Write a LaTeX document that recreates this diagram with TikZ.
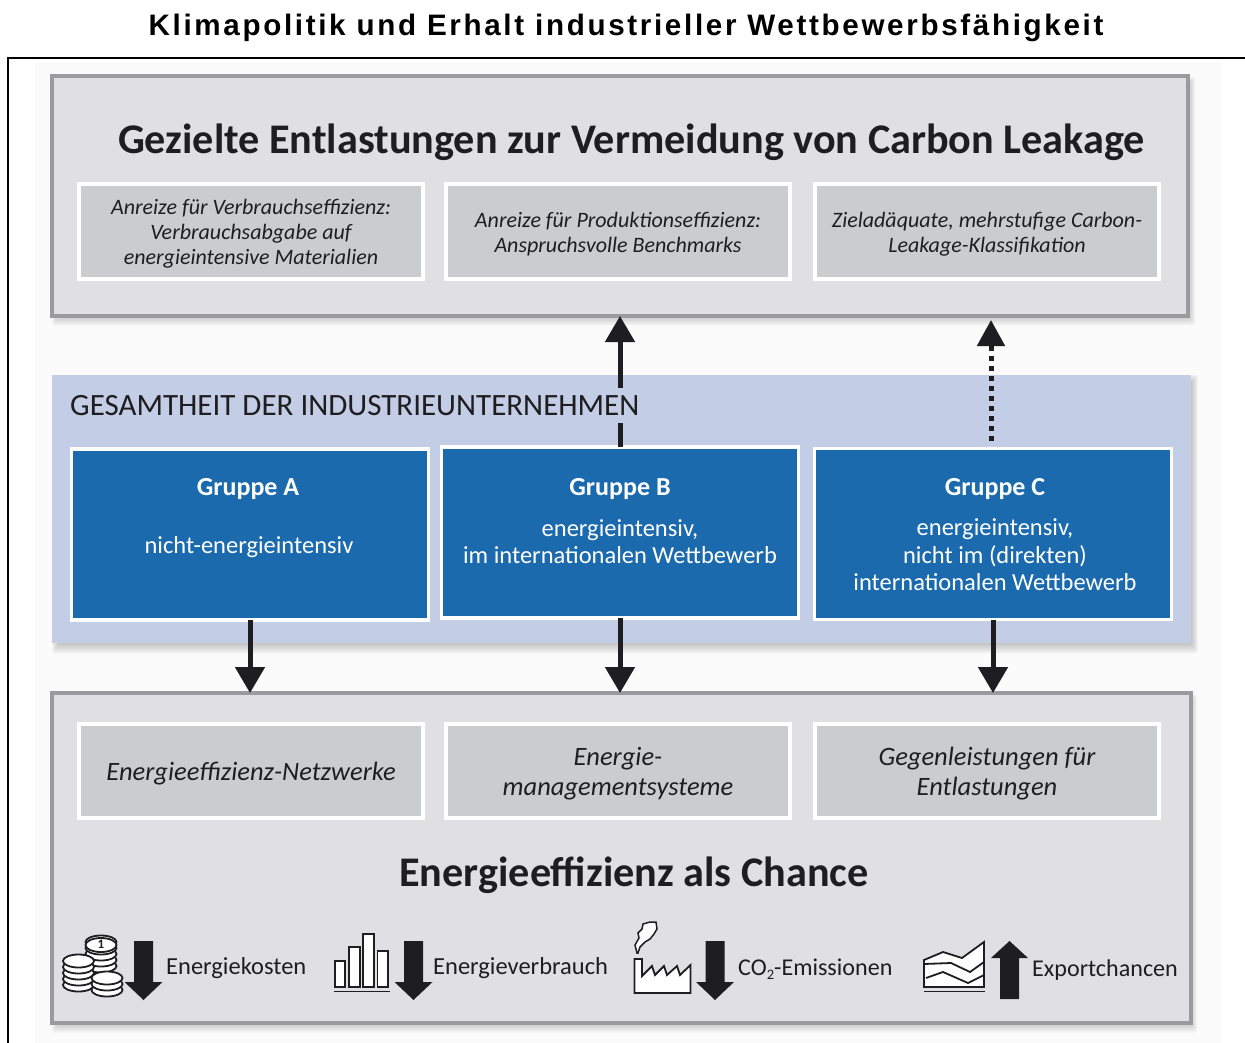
\documentclass[tikz,border=0pt]{standalone}
\usepackage{fontspec}
\setmainfont{Carlito}
\newfontfamily\titlefont[LetterSpace=9]{Liberation Sans}
\usetikzlibrary{arrows.meta}
\definecolor{panelgray}{HTML}{E0E0E2}
\definecolor{panelline}{HTML}{9B9B9D}
\definecolor{innergray}{HTML}{CBCCCE}
\definecolor{bandblue}{HTML}{C4CDE6}
\definecolor{groupblue}{HTML}{1B6AAE}
\definecolor{ink}{HTML}{1E1E20}
\newcommand{\fsz}[2]{\fontsize{#1}{#2}\selectfont}
\newcommand{\lowr}[1]{\raisebox{-2.5pt}[\height][\depth]{#1}}
\newcommand{\softshadow}[4]{%
  \foreach \i in {1,...,7}{%
    \fill[black,opacity=.03,rounded corners=2pt] (#1+7-\i,#2+7-\i) rectangle (#3+\i,#4+1.5*\i);}}
\newcommand{\coinstack}[4]{% cx, bottom y, count, spacing
  \foreach \k in {1,...,#3}{%
    \draw[iconline,fill=white] (#1,{#2-(\k-1)*#4}) ellipse [x radius=15.5,y radius=6.5];}}
\tikzset{
  x=1pt,y=-1pt,
  panel/.style={draw=panelline,fill=panelgray,line width=4pt,inner sep=0pt,outer sep=0pt},
  subbox/.style={draw=white,fill=innergray,line width=4pt,inner sep=0pt,outer sep=0pt,
    minimum width=344pt,minimum height=94pt,text=ink,align=center},
  topsub/.style={subbox,font=\itshape\fsz{22}{25}},
  botsub/.style={subbox,font=\itshape\fsz{26.5}{30}},
  groupbox/.style={draw=white,fill=groupblue,line width=3.5pt,inner sep=0pt,outer sep=0pt,
    minimum width=357pt,minimum height=171pt},
  grouptext/.style={text=white,align=center,inner sep=0pt},
  grouphead/.style={grouptext,font=\bfseries\fsz{26}{30}},
  groupbody/.style={grouptext,font=\fsz{24.5}{27.5}},
  heading/.style={text=ink,font=\bfseries\fsz{42.2}{48},inner sep=0pt},
  iconlabel/.style={text=ink,font=\fsz{24.5}{28},inner sep=0pt,anchor=west},
  flow/.style={line width=5pt,draw=ink,-{Triangle[length=26pt,width=29pt,fill=ink]}},
  iconline/.style={draw=ink,line width=1.8pt,line join=miter},
  bigarrow/.style={fill=ink,draw=none},
}
\begin{document}
\begin{tikzpicture}
\useasboundingbox (0,0) rectangle (1245,1043);
\fill[white] (0,0) rectangle (1245,1043);
\fill[black!1.5] (35,62) rectangle (1222,1043);
% title and frame
\node[inner sep=0pt,text=black] (title) at (626,28) {\titlefont\bfseries\fsz{29.6}{34}Klimapolitik und Erhalt industrieller Wettbewerbsfähigkeit};
\coordinate (frameA) at (8,1043);
\coordinate (frameB) at (8,58);
\coordinate (frameC) at (1245,58);
\draw[black,line width=2pt] (frameA) -- (frameB) -- (frameC);
% shadows
\softshadow{52}{77}{1188}{315}
\softshadow{52}{375}{1191}{643}
\softshadow{52}{694}{1190}{1022}
% panels
\node[panel,minimum width=1136pt,minimum height=240pt] (top) at (620,196) {};
\node[fill=bandblue,inner sep=0pt,outer sep=0pt,minimum width=1139pt,minimum height=268pt] (band) at (621.5,509) {};
\node[panel,minimum width=1139pt,minimum height=330pt] (bottom) at (621.5,858) {};
% top
\node[heading] (toph) at (631.5,142) {Gezielte Entlastungen zur Vermeidung von Carbon Leakage};
\node[topsub] (t1) at (251,231.5) {\lowr{Anreize für Verbrauchseffizienz:}\\\lowr{Verbrauchsabgabe auf}\\\lowr{energieintensive Materialien}};
\node[topsub] (t2) at (618,231.5) {\lowr{Anreize für Produktionseffizienz:}\\\lowr{Anspruchsvolle Benchmarks}};
\node[topsub] (t3) at (987,231.5) {\lowr{Zieladäquate, mehrstufige Carbon-}\\\lowr{Leakage-Klassifikation}};
% groups
\node[groupbox] (gA) at (250,534.5) {};
\node[groupbox] (gB) at (620,532.5) {};
\node[groupbox] (gC) at (993,534) {};
\coordinate (dotstart) at (991,441);
\coordinate (dotend) at (991,320);
% connectors
\draw[flow] (gB.north) -- (gB.north |- top.south);
\draw[flow,-{Triangle[length=26pt,width=27pt,fill=ink]},dash pattern=on 5pt off 5pt] (dotstart) -- (dotend);
\draw[flow] (gA.south) -- (gA.south |- bottom.north);
\draw[flow] (gB.south) -- (gB.south |- bottom.north);
\draw[flow] (gC.south) -- (gC.south |- bottom.north);
% band title (interrupts the arrow)
\node[fill=bandblue,text=ink,inner xsep=0pt,inner ysep=0pt,minimum height=35pt,anchor=west,font=\fsz{31}{34}] (bandt) at (70,405.5) {GESAMTHEIT DER INDUSTRIEUNTERNEHMEN};
% group text
\node[grouphead] (gAh) at (248,489) {Gruppe A};
\node[groupbody] (gAb) at (249,547) {nicht-energieintensiv};
\node[grouphead] (gBh) at (620,489) {Gruppe B};
\node[groupbody] (gBb) at (620,541.5) {energieintensiv,\\im internationalen Wettbewerb};
\node[grouphead] (gCh) at (995,489) {Gruppe C};
\node[groupbody] (gCb) at (995,555) {energieintensiv,\\nicht im (direkten)\\internationalen Wettbewerb};
% bottom
\node[botsub] (b1) at (251,771) {\lowr{Energieeffizienz-Netzwerke}};
\node[botsub] (b2) at (618,771) {\lowr{Energie-}\\\lowr{managementsysteme}};
\node[botsub] (b3) at (987,771) {\lowr{Gegenleistungen für}\\\lowr{Entlastungen}};
\node[heading] (both) at (634,875) {Energieeffizienz als Chance};
% coins
\coinstack{101}{966}{5}{6}
\coinstack{78.5}{985}{5}{6}
\coinstack{107}{990}{3}{6}
\draw[iconline,fill=white] (101,945) ellipse [x radius=15.5,y radius=7];
\node[inner sep=0pt,text=ink,font=\bfseries\fsz{13}{13}] (coin1) at (101,944.5) {1};
% down arrows
\foreach \ax in {143.5,413.5,715}{
  \fill[bigarrow] (\ax-9.5,941) -- (\ax+9.5,941) -- (\ax+9.5,982) -- (\ax+19,982) -- (\ax,1000) -- (\ax-19,982) -- (\ax-9.5,982) -- cycle;
}
% bars
\draw[iconline,fill=white] (335,961) rectangle (345,987);
\draw[iconline,fill=white] (349,947) rectangle (360,987);
\draw[iconline,fill=white] (363,934) rectangle (374,987);
\draw[iconline,fill=white] (377.5,951) rectangle (388,987);
\draw[iconline] (333.5,991.5) -- (390,991.5);
% factory
\draw[iconline,fill=white] (634.5,959) -- (642,959) -- (642,976) -- (652,966) -- (655,975) -- (664,966) -- (667,975) -- (677,966) -- (680,975) -- (690.5,965) -- (690.5,993) -- (634.5,993) -- cycle;
\draw[iconline,line width=1.5pt,fill=white] (637,953) -- (635,945) -- (639,938) -- (638,933) -- (642,929) -- (643,924) -- (650,922) -- (656,922) -- (657,929) -- (654,934) -- (650,939) -- (645,942) -- (640,947) -- (638,953) -- cycle;
% chart
\draw[iconline,fill=white] (924,960) -- (943,952) -- (962,958) -- (984,942) -- (984,987) -- (924,987) -- cycle;
\draw[iconline] (924,964) -- (951,963) -- (970,972) -- (984,962);
\draw[iconline] (926,978) -- (943,972) -- (968,983) -- (984,975);
\draw[iconline] (924,991.5) -- (985,991.5);
\fill[bigarrow] (1009.5,941) -- (1028,958) -- (1019,958) -- (1019,999) -- (1000,999) -- (1000,958) -- (991,958) -- cycle;
% labels
\node[iconlabel] (l1) at (166,968) {Energiekosten};
\node[iconlabel] (l2) at (433,968) {Energieverbrauch};
\node[iconlabel,font=\fsz{24.1}{28}] (l3) at (738,969) {CO\raisebox{-.35ex}{\fsz{14.5}{14.5}2}-Emissionen};
\node[iconlabel,font=\fsz{24.1}{28}] (l4) at (1032,970) {Exportchancen};
\end{tikzpicture}
\end{document}
